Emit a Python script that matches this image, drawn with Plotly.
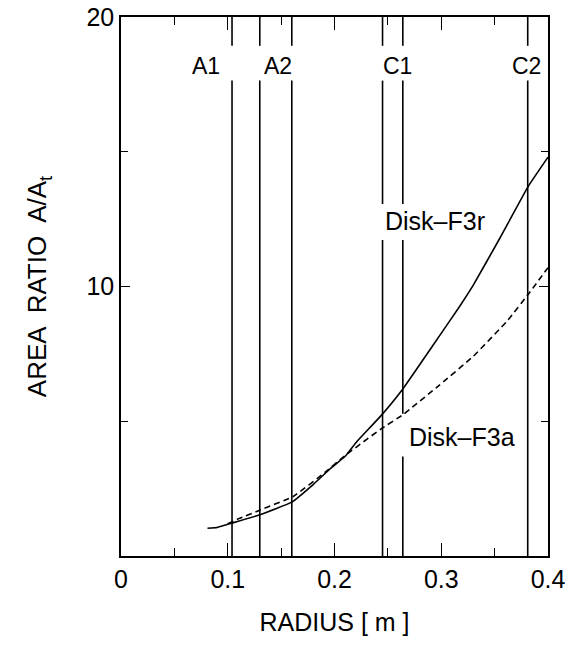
import plotly.graph_objects as go

# ---- data ----
radius_r = [0.081, 0.09, 0.104, 0.13, 0.16, 0.18, 0.195, 0.21, 0.221, 0.243, 0.264, 0.298, 0.317, 0.33, 0.355, 0.382, 0.4]
ratio_r  = [1.03, 1.06, 1.22, 1.53, 2.0, 2.65, 3.2, 3.7, 4.25, 5.18, 6.2, 8.15, 9.25, 10.05, 11.8, 13.75, 14.8]

radius_a = [0.1, 0.11, 0.13, 0.161, 0.191, 0.209, 0.243, 0.264, 0.298, 0.33, 0.362, 0.383, 0.4]
ratio_a  = [1.2, 1.38, 1.7, 2.2, 3.1, 3.7, 4.7, 5.24, 6.33, 7.41, 8.73, 9.79, 10.7]

station_x = [0.104, 0.130, 0.160, 0.245, 0.264, 0.381]
station_labels = ["A1", "A2", "C1", "C2"]
station_label_x = [0.080, 0.147, 0.259, 0.380]

x_tickvals = [0, 0.1, 0.2, 0.3, 0.4]
x_ticktext = ["0", "0.1", "0.2", "0.3", "0.4"]
y_tickvals = [10, 20]
y_ticktext = ["10", "20"]

FONT = "Liberation Sans, Arial, Helvetica, sans-serif"

fig = go.Figure()

# vertical station lines with gaps where labels sit
label_row = (17.64, 18.93)
f3r_gap = (11.73, 13.06)
f3a_gap = (3.69, 5.28)
for i, sx in enumerate(station_x):
    gaps = [label_row]
    if i in (3, 4):
        gaps.append(f3r_gap)
    if i == 4:
        gaps.append(f3a_gap)
    gaps = sorted(gaps)
    xs, ys = [], []
    y0 = 0
    for g0, g1 in gaps:
        xs += [sx, sx, None]
        ys += [y0, g0, None]
        y0 = g1
    xs += [sx, sx]
    ys += [y0, 20]
    fig.add_trace(go.Scatter(x=xs, y=ys, mode="lines",
                             line=dict(color="black", width=1.6),
                             showlegend=False, hoverinfo="skip"))

fig.add_trace(go.Scatter(x=radius_r, y=ratio_r, mode="lines",
                         line=dict(color="black", width=1.6, shape="spline", smoothing=0.3),
                         showlegend=False))
fig.add_trace(go.Scatter(x=radius_a, y=ratio_a, mode="lines",
                         line=dict(color="black", width=1.6, dash="6px,4px",
                                   shape="spline", smoothing=0.3),
                         showlegend=False))

for lab, lx in zip(station_labels, station_label_x):
    fig.add_annotation(x=lx, y=18.2, text=lab, showarrow=False,
                       font=dict(family=FONT, size=23, color="black"))

fig.add_annotation(x=0.2946, y=12.42, text="Disk\u2013F3r", showarrow=False,
                   font=dict(family=FONT, size=25, color="black"))
fig.add_annotation(x=0.319, y=4.43, text="Disk\u2013F3a", showarrow=False,
                   font=dict(family=FONT, size=25, color="black"))

axis_common = dict(showline=True, linecolor="black", linewidth=1.6,
                   mirror="allticks", ticks="inside", tickcolor="black",
                   tickwidth=1.4, showgrid=False, zeroline=False,
                   automargin=False, ticklabeloverflow="allow",
                   tickfont=dict(family=FONT, size=25, color="black"))

fig.update_xaxes(range=[0, 0.4], tickmode="array", tickvals=x_tickvals,
                 ticktext=x_ticktext, ticklen=13,
                 minor=dict(tickmode="array", tickvals=[0.05, 0.15, 0.25, 0.35],
                            ticks="inside", ticklen=8, tickcolor="black", tickwidth=1.4),
                 title=dict(text="RADIUS [ m ]", standoff=22,
                            font=dict(family=FONT, size=25, color="black")),
                 **axis_common)
fig.update_yaxes(range=[0, 20], tickmode="array", tickvals=y_tickvals,
                 ticktext=y_ticktext, ticklen=9,
                 minor=dict(tickmode="array", tickvals=[5, 15],
                            ticks="inside", ticklen=7, tickcolor="black", tickwidth=1.4),
                 title=dict(text="AREA  RATIO  A/A<sub>t</sub>", standoff=32,
                            font=dict(family=FONT, size=26, color="black")),
                 **axis_common)

fig.update_layout(width=576, height=648,
                  margin=dict(l=121, r=28, t=17, b=92),
                  plot_bgcolor="white", paper_bgcolor="white",
                  showlegend=False)

fig.write_html("out.html")
